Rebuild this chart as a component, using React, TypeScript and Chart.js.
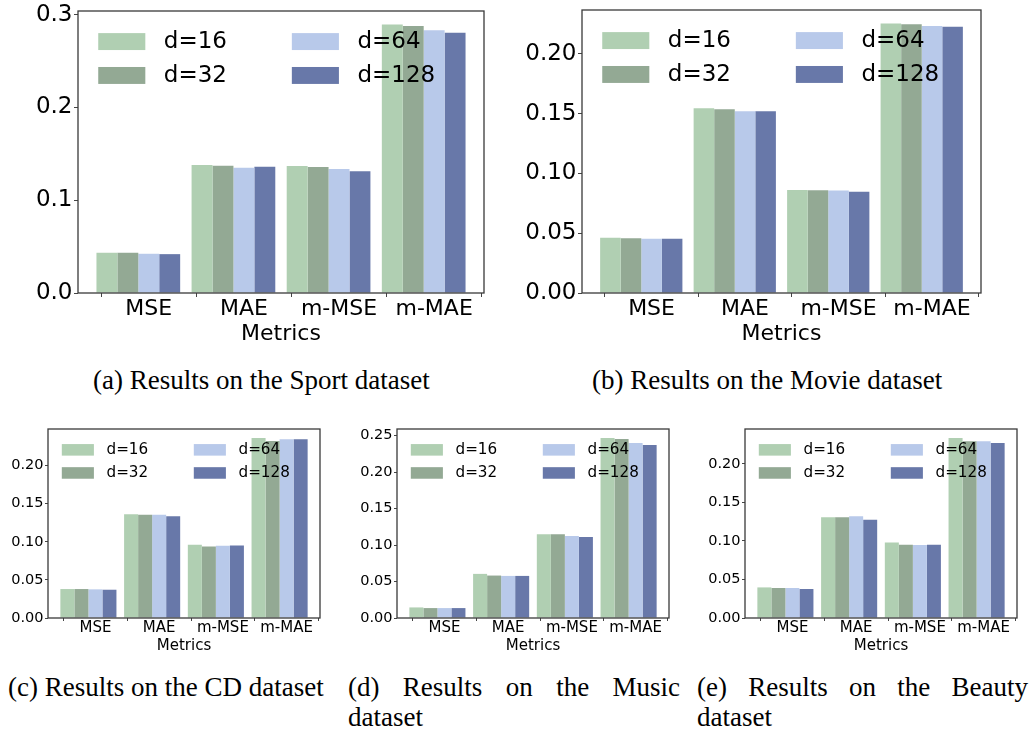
import React, { useEffect, useRef } from 'react';
import { Chart, registerables } from 'chart.js';

Chart.register(...registerables);

// ---------- data ----------
const METRICS = ['MSE', 'MAE', 'm-MSE', 'm-MAE'];
const DIMS = ['d=16', 'd=32', 'd=64', 'd=128'];
const COLORS = ['#b0cfb2', '#93a994', '#b8c9ea', '#6878a9'];

// rows: d=16, d=32, d=64, d=128 ; columns: MSE, MAE, m-MSE, m-MAE
const SPORT = [
  [0.0434, 0.1380, 0.1369, 0.2896],
  [0.0434, 0.1373, 0.1358, 0.2878],
  [0.0423, 0.1351, 0.1337, 0.2832],
  [0.0419, 0.1362, 0.1312, 0.2806],
];
const MOVIE = [
  [0.0461, 0.1544, 0.0861, 0.2253],
  [0.0458, 0.1536, 0.0858, 0.2247],
  [0.0453, 0.1519, 0.0856, 0.2231],
  [0.0453, 0.1519, 0.0847, 0.2225],
];
const CD = [
  [0.0380, 0.1362, 0.0961, 0.2362],
  [0.0380, 0.1354, 0.0939, 0.2323],
  [0.0376, 0.1354, 0.0948, 0.2345],
  [0.0371, 0.1336, 0.0952, 0.2345],
];
const MUSIC = [
  [0.0145, 0.0605, 0.1150, 0.2468],
  [0.0136, 0.0582, 0.1150, 0.2455],
  [0.0136, 0.0577, 0.1123, 0.2400],
  [0.0136, 0.0577, 0.1109, 0.2373],
];
const BEAUTY = [
  [0.0397, 0.1308, 0.0980, 0.2336],
  [0.0389, 0.1308, 0.0950, 0.2293],
  [0.0389, 0.1321, 0.0946, 0.2293],
  [0.0376, 0.1274, 0.0950, 0.2271],
];

const SPORT_TICKS = [0, 0.1, 0.2, 0.3];
const MOVIE_TICKS = [0, 0.05, 0.1, 0.15, 0.2];
const CD_TICKS = [0, 0.05, 0.1, 0.15, 0.2];
const MUSIC_TICKS = [0, 0.05, 0.1, 0.15, 0.2, 0.25];
const BEAUTY_TICKS = [0, 0.05, 0.1, 0.15, 0.2];

const X_LABEL = 'Metrics';

// ---------- layout ----------
type Panel = {
  id: string;
  rows: number[][];
  ticks: number[];
  decimals: number;
  canvas: { l: number; t: number; w: number; h: number };
  area: { l: number; t: number; r: number; b: number };
  u: number; // geometry unit for legend
  xfs: number;
  yfs: number;
  lfs: number;
  xpad: number;
};

const PANELS: Panel[] = [
  { id: 'a', rows: SPORT, ticks: SPORT_TICKS, decimals: 1, canvas: { l: 0, t: 0, w: 500, h: 347 }, area: { l: 78, t: 11, r: 484, b: 293 }, u: 22, xfs: 22, yfs: 23, lfs: 23, xpad: -1 },
  { id: 'b', rows: MOVIE, ticks: MOVIE_TICKS, decimals: 2, canvas: { l: 500, t: 0, w: 534, h: 347 }, area: { l: 582, t: 10, r: 981, b: 293 }, u: 22, xfs: 22, yfs: 23, lfs: 23, xpad: -1 },
  { id: 'c', rows: CD, ticks: CD_TICKS, decimals: 2, canvas: { l: 0, t: 420, w: 340, h: 235 }, area: { l: 48, t: 429, r: 320, b: 618 }, u: 15, xfs: 15, yfs: 14.5, lfs: 15.2, xpad: -1.5 },
  { id: 'd', rows: MUSIC, ticks: MUSIC_TICKS, decimals: 2, canvas: { l: 340, t: 420, w: 345, h: 235 }, area: { l: 397, t: 429, r: 669, b: 618 }, u: 15, xfs: 15, yfs: 14.5, lfs: 15.2, xpad: -1.5 },
  { id: 'e', rows: BEAUTY, ticks: BEAUTY_TICKS, decimals: 2, canvas: { l: 690, t: 420, w: 344, h: 235 }, area: { l: 745, t: 429, r: 1017, b: 618 }, u: 15, xfs: 15, yfs: 14.5, lfs: 15.2, xpad: -1.5 },
];

const BAR_W = 0.22; // one bar, in category units
const X_MIN = -2 * BAR_W - 0.194;
const X_MAX = METRICS.length - 1 + 2 * BAR_W + 0.194;
const FONT = 'DejaVu Sans';

const insideLegend = {
  id: 'insideLegend',
  afterDatasetsDraw(chart: any, _a: any, opts: any) {
    const { ctx, chartArea } = chart;
    const u = opts.u;
    ctx.save();
    chart.data.datasets.forEach((ds: any, k: number) => {
      const col = Math.floor(k / 2);
      const row = k % 2;
      const x0 = chartArea.left + 0.92 * u + col * 8.8 * u;
      const cy = chartArea.top + 1.39 * u + row * 1.54 * u;
      ctx.fillStyle = ds.backgroundColor;
      ctx.fillRect(x0, cy - 0.385 * u, 2.14 * u, 0.77 * u);
      ctx.fillStyle = '#000';
      ctx.font = `${opts.lfs}px "${FONT}"`;
      ctx.textBaseline = 'middle';
      ctx.textAlign = 'left';
      ctx.fillText(ds.label, x0 + 2.98 * u, cy + 0.03 * u);
    });
    ctx.restore();
  },
};

const frame = {
  id: 'frame',
  afterDraw(chart: any) {
    const { ctx, chartArea } = chart;
    ctx.save();
    ctx.strokeStyle = '#3a3a3a';
    ctx.lineWidth = 1.3;
    ctx.strokeRect(chartArea.left, chartArea.top, chartArea.right - chartArea.left, chartArea.bottom - chartArea.top);
    ctx.restore();
  },
};

function BarPanel({ p }: { p: Panel }) {
  const ref = useRef<HTMLCanvasElement | null>(null);
  useEffect(() => {
    if (!ref.current) return;
    const tl = p.u > 18 ? 4 : 3;
    const yWidth = p.area.l - p.canvas.l;
    const xHeight = p.canvas.t + p.canvas.h - p.area.b;
    const allVals = p.rows.flat();
    const yMax = Math.max(...allVals) * 1.05;
    const chart = new Chart(ref.current, {
      type: 'bar',
      data: {
        datasets: p.rows.map((vals, k) => ({
          label: DIMS[k],
          data: vals.map((v, i) => ({ x: i, y: v })),
          backgroundColor: COLORS[k],
          borderWidth: 0,
          categoryPercentage: 4 * BAR_W,
          barPercentage: 1,
        })),
      },
      options: {
        responsive: false,
        animation: false,
        events: [],
        layout: {
          padding: {
            left: 0,
            top: p.area.t - p.canvas.t,
            right: p.canvas.l + p.canvas.w - p.area.r,
            bottom: 0,
          },
        },
        plugins: {
          legend: { display: false },
          tooltip: { enabled: false },
          insideLegend: { u: p.u, lfs: p.lfs },
        } as any,
        scales: {
          x: {
            type: 'linear',
            min: X_MIN,
            max: X_MAX,
            offset: false,
            border: { display: false },
            grid: { display: true, drawOnChartArea: false, drawTicks: true, tickLength: tl, color: '#444', lineWidth: 1 },
            ticks: {
              font: { family: FONT, size: p.xfs },
              color: '#000',
              padding: p.xpad,
              maxRotation: 0,
              autoSkip: false,
              callback: (_v: any, i: number) => METRICS[i],
            },
            afterBuildTicks: (s: any) => {
              s.ticks = METRICS.map((_m, i) => ({ value: i + BAR_W / 2 }));
            },
            afterFit: (s: any) => {
              s.height = xHeight;
            },
            title: { display: true, text: X_LABEL, font: { family: FONT, size: p.xfs, lineHeight: 1.2 }, color: '#000', padding: 0 },
          },
          y: {
            min: 0,
            max: yMax,
            border: { display: false },
            grid: { display: true, drawOnChartArea: false, drawTicks: true, tickLength: tl, color: '#444', lineWidth: 1 },
            ticks: {
              font: { family: FONT, size: p.yfs, lineHeight: 0.7 },
              color: '#000',
              padding: 1.5,
              callback: (v: any) => Number(v).toFixed(p.decimals),
            },
            afterBuildTicks: (s: any) => {
              s.ticks = p.ticks.map((v) => ({ value: v }));
            },
            afterFit: (s: any) => {
              s.width = yWidth;
              s.paddingTop = 0;
              s.paddingBottom = 0;
            },
          },
        },
      } as any,
      plugins: [insideLegend, frame],
    });
    return () => chart.destroy();
  }, [p]);
  return (
    <div style={{ position: 'absolute', left: p.canvas.l, top: p.canvas.t, width: p.canvas.w, height: p.canvas.h }}>
      <canvas ref={ref} width={p.canvas.w} height={p.canvas.h} style={{ display: 'block' }} />
    </div>
  );
}

const capStyle: React.CSSProperties = {
  position: 'absolute',
  fontFamily: '"Liberation Serif", "Times New Roman", serif',
  fontSize: 27,
  lineHeight: '30px',
  color: '#000',
};

export default function App() {
  return (
    <div style={{ position: 'absolute', left: 0, top: 0, width: 1034, height: 732, background: '#fff', overflow: 'hidden' }}>
      {PANELS.map((p) => (
        <BarPanel key={p.id} p={p} />
      ))}
      <div style={{ ...capStyle, left: 93, top: 365, whiteSpace: 'nowrap' }}>(a) Results on the Sport dataset</div>
      <div style={{ ...capStyle, left: 592, top: 365, whiteSpace: 'nowrap' }}>(b) Results on the Movie dataset</div>
      <div style={{ ...capStyle, left: 8, top: 672, whiteSpace: 'nowrap' }}>(c) Results on the CD dataset</div>
      <div style={{ ...capStyle, left: 348, top: 672, width: 332, textAlign: 'justify' }}>(d) Results on the Music dataset</div>
      <div style={{ ...capStyle, left: 697, top: 672, width: 331, textAlign: 'justify' }}>(e) Results on the Beauty dataset</div>
    </div>
  );
}
